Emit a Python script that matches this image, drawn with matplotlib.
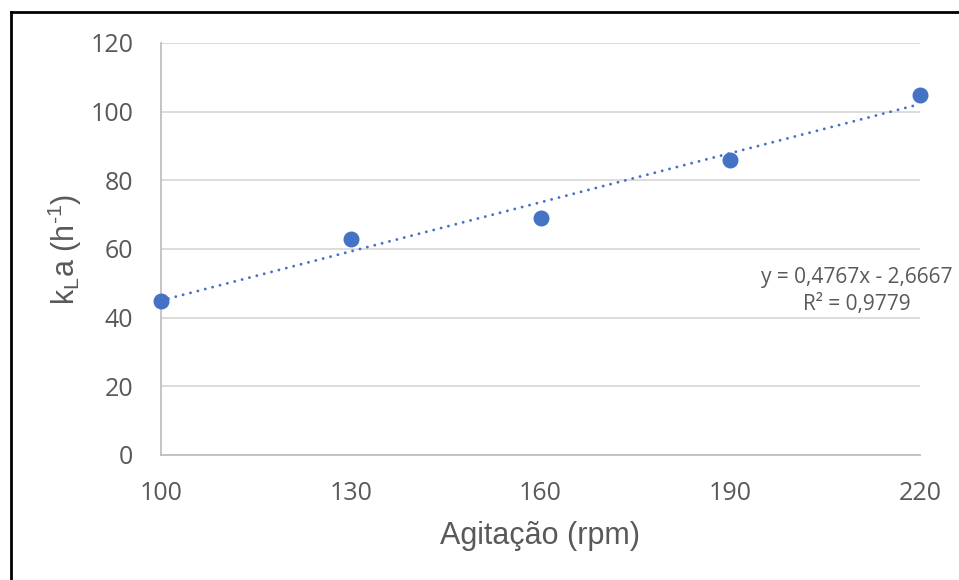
import numpy as np
import matplotlib.pyplot as plt
from matplotlib.lines import Line2D

agitacao = [100, 130, 160, 190, 220]
kla = [45, 63, 69, 86, 105]
x_ticks = [100, 130, 160, 190, 220]
y_ticks = [0, 20, 40, 60, 80, 100, 120]
eq_text = "y = 0,4767x - 2,6667\nR² = 0,9779"

blue = '#4472C4'
grey_txt = '#595959'

plt.rcParams['font.family'] = ['Open Sans', 'DejaVu Sans']
plt.rcParams['mathtext.default'] = 'regular'

fig = plt.figure(figsize=(9.59, 5.80), dpi=100)
ax = fig.add_axes([161/959, 1-455/580, (920-161)/959, (455-43)/580])

# linear trend from the points
a, b = np.polyfit(agitacao, kla, 1)
xt = np.array([agitacao[0], agitacao[-1]])
ax.plot(xt, a*xt + b, color=blue, lw=2.1, linestyle=(0, (0.01, 2.6)),
        dash_capstyle='round', zorder=3, clip_on=False)
ax.plot(agitacao, kla, 'o', color=blue, markersize=10.5, zorder=4, clip_on=False)

ax.set_xlim(100, 220)
ax.set_ylim(0, 120)
ax.set_xticks(x_ticks)
ax.set_yticks(y_ticks)
ax.tick_params(length=0, labelsize=18, labelcolor=grey_txt)
ax.tick_params(axis='y', pad=20)
ax.tick_params(axis='x', pad=19)
ax.grid(axis='y', color='#D9D9D9', lw=1.3)
ax.set_axisbelow(True)
for s in ['top', 'right']:
    ax.spines[s].set_visible(False)
for s in ['left', 'bottom']:
    ax.spines[s].set_color('#BFBFBF')
    ax.spines[s].set_linewidth(1.3)

ax.set_xlabel('Agitação (rpm)', fontsize=22, color=grey_txt, family='Liberation Sans')
ax.xaxis.set_label_coords(0.5, -0.16)
ax.set_ylabel('k$_L$a (h$^{\u20101}$)', fontsize=22, color=grey_txt, family='Liberation Sans')
ax.yaxis.set_label_coords(-0.102, 0.5)

ax.text(210, 47.8, eq_text, ha='center', va='center', fontsize=15,
        color=grey_txt, linespacing=1.35, multialignment='center')

# outer frame of the pasted chart
fig.add_artist(Line2D([10.5/959, 10.5/959], [-0.1, 1-11.5/580], color='black', lw=2,
                      transform=fig.transFigure))
fig.add_artist(Line2D([10.5/959, 1.1], [1-11.5/580, 1-11.5/580], color='black', lw=2,
                      transform=fig.transFigure))

fig.savefig('out.png', dpi=100)
